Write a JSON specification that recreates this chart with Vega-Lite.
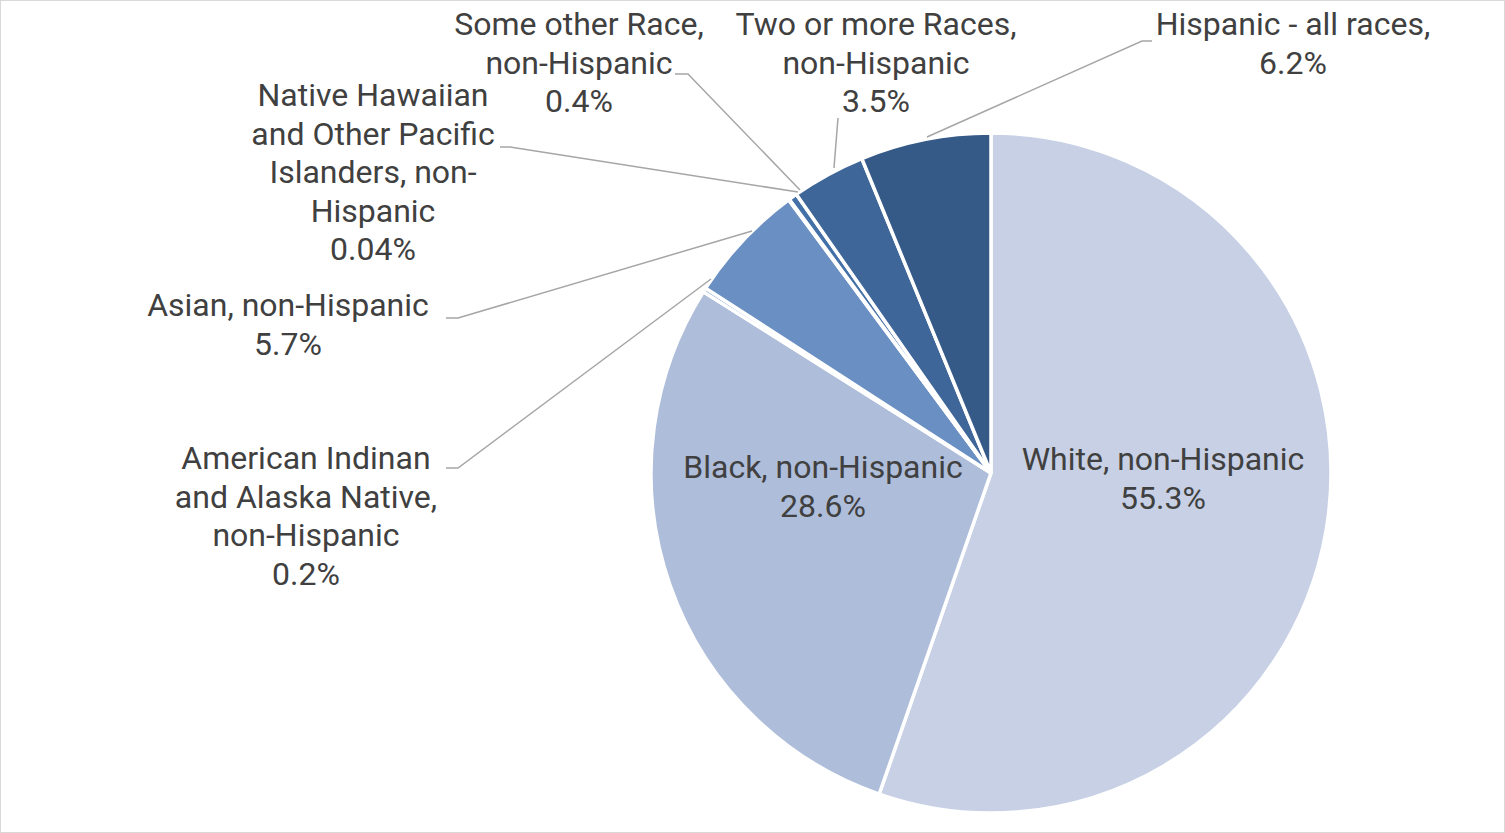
{
  "$schema": "https://vega.github.io/schema/vega-lite/v6.json",
  "width": 1505,
  "height": 833,
  "padding": 0,
  "autosize": {"type": "none"},
  "background": "white",
  "config": {"view": {"stroke": "#d9d9d9", "strokeWidth": 2}},
  "datasets": {
    "slices": [
      {"category": "White, non-Hispanic", "value": 55.3, "order": 1, "label": "White, non-Hispanic\n55.3%", "lx": 50.59, "ly": 3.82},
      {"category": "Black, non-Hispanic", "value": 28.6, "order": 2, "label": "Black, non-Hispanic\n28.6%", "lx": -49.41, "ly": 1.47},
      {"category": "American Indinan and Alaska Native, non-Hispanic", "value": 0.2, "order": 3, "label": "American Indinan\nand Alaska Native,\nnon-Hispanic\n0.2%", "lx": -201.47, "ly": 4.12},
      {"category": "Asian, non-Hispanic", "value": 5.7, "order": 4, "label": "Asian, non-Hispanic\n5.7%", "lx": -206.76, "ly": 49.12},
      {"category": "Native Hawaiian and Other Pacific Islanders, non-Hispanic", "value": 0.04, "order": 5, "label": "Native Hawaiian\nand Other Pacific\nIslanders, non-\nHispanic\n0.04%", "lx": -181.76, "ly": 110.88},
      {"category": "Some other Race, non-Hispanic", "value": 0.4, "order": 6, "label": "Some other Race,\nnon-Hispanic\n0.4%", "lx": -121.18, "ly": 131.76},
      {"category": "Two or more Races, non-Hispanic", "value": 3.5, "order": 7, "label": "Two or more Races,\nnon-Hispanic\n3.5%", "lx": -33.82, "ly": 131.76},
      {"category": "Hispanic - all races", "value": 6.2, "order": 8, "label": "Hispanic - all races,\n6.2%", "lx": 88.82, "ly": 131.76}
    ],
    "leaders": [
      {"id": "Hispanic", "seq": 1, "x": 47.35, "y": 127.06},
      {"id": "Hispanic", "seq": 2, "x": 44.41, "y": 127.06},
      {"id": "Hispanic", "seq": 3, "x": -18.82, "y": 98.82},
      {"id": "Two", "seq": 1, "x": -45.0, "y": 104.41},
      {"id": "Two", "seq": 2, "x": -46.18, "y": 89.71},
      {"id": "Other", "seq": 1, "x": -92.94, "y": 117.35},
      {"id": "Other", "seq": 2, "x": -89.12, "y": 117.35},
      {"id": "Other", "seq": 3, "x": -56.18, "y": 83.24},
      {"id": "NHPI", "seq": 1, "x": -144.41, "y": 95.88},
      {"id": "NHPI", "seq": 2, "x": -141.47, "y": 95.88},
      {"id": "NHPI", "seq": 3, "x": -56.76, "y": 82.65},
      {"id": "Asian", "seq": 1, "x": -160.29, "y": 45.59},
      {"id": "Asian", "seq": 2, "x": -156.76, "y": 45.59},
      {"id": "Asian", "seq": 3, "x": -70.29, "y": 71.18},
      {"id": "AIAN", "seq": 1, "x": -160.29, "y": 1.47},
      {"id": "AIAN", "seq": 2, "x": -156.76, "y": 1.47},
      {"id": "AIAN", "seq": 3, "x": -82.35, "y": 57.06}
    ]
  },
  "layer": [
    {
      "data": {"name": "slices"},
      "transform": [{"stack": "value", "groupby": [], "sort": [{"field": "order", "order": "ascending"}], "as": ["v0", "v1"]}],
      "mark": {"type": "arc", "outerRadius": 340, "stroke": "white", "strokeWidth": 3.5},
      "encoding": {
        "x": {"datum": 0, "type": "quantitative", "scale": {"domain": [-291.47, 151.18], "nice": false, "zero": false}, "axis": null},
        "y": {"datum": 0, "type": "quantitative", "scale": {"domain": [-105.88, 139.12], "nice": false, "zero": false}, "axis": null},
        "theta": {"field": "v0", "type": "quantitative", "stack": null, "scale": {"domain": [0, 99.94]}},
        "theta2": {"field": "v1"},
        "color": {
          "field": "category", "type": "nominal", "legend": null,
          "scale": {
            "domain": ["White, non-Hispanic", "Black, non-Hispanic", "American Indinan and Alaska Native, non-Hispanic", "Asian, non-Hispanic", "Native Hawaiian and Other Pacific Islanders, non-Hispanic", "Some other Race, non-Hispanic", "Two or more Races, non-Hispanic", "Hispanic - all races"],
            "range": ["#c7d0e4", "#aebdd9", "#8ea5cf", "#6a8fc3", "#5079b2", "#4470a8", "#3e6698", "#355a87"]
          }
        }
      }
    },
    {
      "data": {"name": "leaders"},
      "mark": {"type": "line", "stroke": "#a6a6a6", "strokeWidth": 1.5},
      "encoding": {
        "x": {"field": "x", "type": "quantitative"},
        "y": {"field": "y", "type": "quantitative"},
        "detail": {"field": "id", "type": "nominal"},
        "order": {"field": "seq", "type": "quantitative"}
      }
    },
    {
      "data": {"name": "slices"},
      "mark": {"type": "text", "font": "Roboto", "fontSize": 32, "fill": "#404040", "lineBreak": "\n", "lineHeight": 38.5, "align": "center", "baseline": "middle"},
      "encoding": {
        "x": {"field": "lx", "type": "quantitative"},
        "y": {"field": "ly", "type": "quantitative"},
        "text": {"field": "label", "type": "nominal"}
      }
    }
  ]
}
